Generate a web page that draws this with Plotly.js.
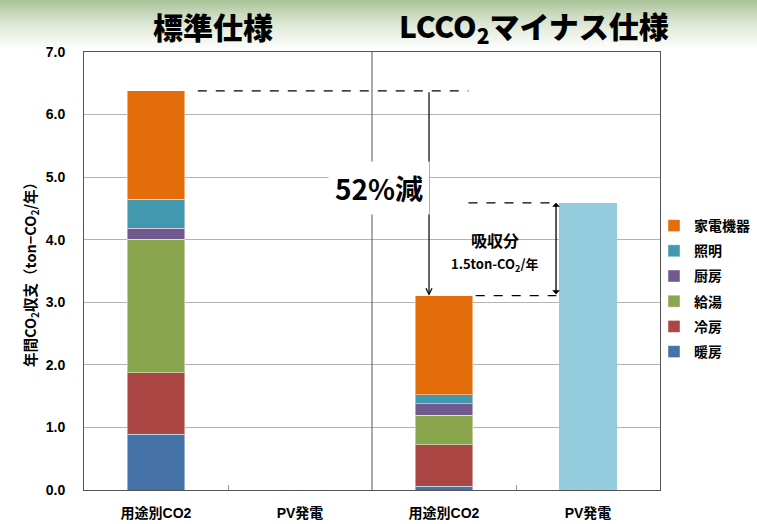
<!DOCTYPE html>
<html><head><meta charset="utf-8">
<script src="https://cdn.plot.ly/plotly-3.0.1.min.js"></script>
<style>
html,body{margin:0;padding:0;}
body{background:linear-gradient(to bottom,#a9c296 0px,#c9d9bd 14px,#e6eee0 30px,#ffffff 50px);}
#chart{width:757px;height:524px;}
</style></head>
<body><div id="chart"></div>
<script>
const categories = ['用途別CO2','PV発電','用途別CO2','PV発電'];
const heating    = [0.89, null, 0.06, null];
const cooling    = [0.98, null, 0.665, null];
const hotWater   = [2.14, null, 0.47, null];
const kitchen    = [0.17, null, 0.18, null];
const lighting   = [0.47, null, 0.15, null];
const appliances = [1.73, null, 1.58, null];
const pvGen      = [null, null, null, 4.59];
const seriesNames = ['暖房','冷房','給湯','厨房','照明','家電機器'];
const seriesColors = ['#4572A7','#AA4643','#89A54E','#71588F','#4198AF','#E46C0A'];
const yTicks = [0,1,2,3,4,5,6,7];

const xs = categories.map((c,i)=>i);
const series = [heating,cooling,hotWater,kitchen,lighting,appliances];
const FONT = 'Liberation Sans, Arial, Noto Sans CJK JP, sans-serif';
const CJK = 'Noto Sans CJK JP, sans-serif';

const traces = series.map((vals,k)=>({
  type:'bar', x:xs, y:vals, name:seriesNames[k], legendgroup:'g'+k,
  legendrank: 1000 + (series.length - k),
  marker:{color:seriesColors[k], line:{color:'rgba(255,255,255,0.45)', width:1}},
  hoverinfo:'y+name'
}));
traces.push({type:'bar', x:xs, y:pvGen, name:'PV発電', showlegend:false, legendgroup:'pv',
  marker:{color:'#93CDDD', line:{width:0}}});

const col = i => series.reduce((s,a)=>s+(a[i]||0),0);
const totalStd = col(0), totalLc = col(2), pvTop = pvGen[3];

const W = 757, H = 524, L = 84, R = 660, T = 52, B = 490;
const px = v => (v - L) / (R - L);
const py = v => (B - v) / (B - T);

const layout = {
  width:W, height:H,
  margin:{l:L, r:W-R, t:T, b:H-B, autoexpand:false},
  paper_bgcolor:'rgba(0,0,0,0)', plot_bgcolor:'#ffffff',
  barmode:'stack', bargap:0.6,
  showlegend:true,
  legend:{xref:'container', yref:'container', x:654/W, xanchor:'left', y:1-210/H, yanchor:'top',
    traceorder:'grouped', tracegroupgap:4, itemwidth:30, bgcolor:'rgba(0,0,0,0)',
    font:{family:CJK, size:14, color:'#000', weight:'bold'}},
  xaxis:{range:[-0.5,3.5], tickvals:xs, ticktext:categories, ticks:'',
    showline:true, mirror:true, linecolor:'#555', linewidth:1,
    showgrid:false, zeroline:false, ticklabelstandoff:10,
    tickfont:{family:FONT, size:14, color:'#000', weight:'bold'},
    minor:{tickvals:[0.5,2.5], ticks:'inside', ticklen:5, tickcolor:'#999', showgrid:false}},
  yaxis:{range:[0,7], tickvals:yTicks, tickformat:'.1f', ticks:'',
    showline:true, mirror:true, linecolor:'#555', linewidth:1,
    showgrid:true, gridcolor:'#b3b3b3', gridwidth:1, zeroline:false,
    ticklabelstandoff:15,
    tickfont:{family:FONT, size:14, color:'#000', weight:'bold'},
    title:{text:'年間CO<sub>2</sub>収支（ton−CO<sub>2</sub>/年）', standoff:5,
      font:{family:CJK, size:14.5, color:'#000', weight:'bold'}}},
  shapes:[
    {type:'line', xref:'x', yref:'y', x0:1.5, x1:1.5, y0:0, y1:7, line:{color:'#555', width:1}},
    {type:'line', xref:'x', yref:'y', x0:0.29, x1:2.17, y0:totalStd, y1:totalStd, line:{color:'#000', width:1.3, dash:'dash'}},
    {type:'line', xref:'x', yref:'y', x0:2.17, x1:2.78, y0:pvTop, y1:pvTop, line:{color:'#000', width:1.3, dash:'dash'}},
    {type:'line', xref:'x', yref:'y', x0:2.22, x1:2.78, y0:totalLc, y1:totalLc, line:{color:'#000', width:1.3, dash:'dash'}}
  ],
  annotations:[
    {xref:'paper', yref:'paper', x:px(213), y:py(26), xanchor:'center', yanchor:'middle', text:'標準仕様', showarrow:false,
      font:{family:CJK, size:30, color:'#000', weight:900}},
    {xref:'paper', yref:'paper', x:px(534), y:py(26), xanchor:'center', yanchor:'middle', text:'LCCO<sub>2</sub>マイナス仕様', showarrow:false,
      font:{family:CJK, size:30, color:'#000', weight:900}},
    {xref:'x', yref:'y', x:1.896, y:totalLc, ax:1.896, ay:totalStd, axref:'x', ayref:'y',
      text:'', showarrow:true, arrowhead:5, arrowsize:1, arrowwidth:1.2, arrowcolor:'#000', standoff:0, startstandoff:0},
    {xref:'x', yref:'y', x:1.549, y:4.83, text:'52%減', showarrow:false, bgcolor:'#ffffff',
      borderpad:6, font:{family:CJK, size:28, color:'#000', weight:'bold'}},
    {xref:'x', yref:'y', x:2.778, y:pvTop, ax:2.778, ay:totalLc, axref:'x', ayref:'y',
      text:'', showarrow:true, arrowhead:1, arrowside:'end+start', arrowsize:1, arrowwidth:1.3, arrowcolor:'#000', standoff:0, startstandoff:0},
    {xref:'x', yref:'y', x:2.354, y:4.0, text:'吸収分', showarrow:false,
      font:{family:CJK, size:16, color:'#000', weight:'bold'}},
    {xref:'x', yref:'y', x:2.354, y:3.6, text:'1.5ton-CO<sub>2</sub>/年', showarrow:false,
      font:{family:CJK, size:13, color:'#000', weight:'bold'}}
  ]
};
Plotly.newPlot('chart', traces, layout, {displayModeBar:false, staticPlot:true});
</script></body></html>
